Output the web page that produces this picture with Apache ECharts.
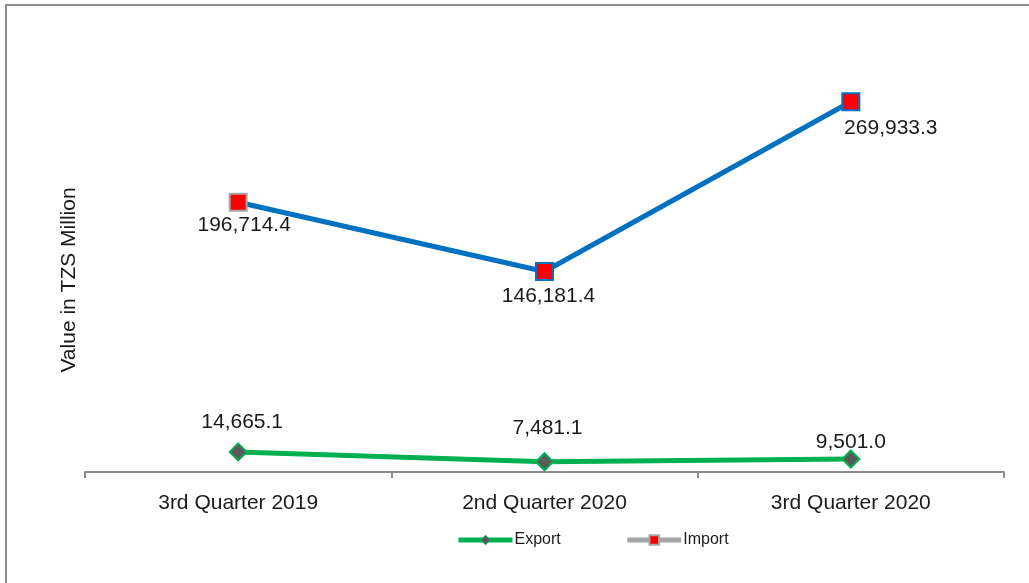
<!DOCTYPE html>
<html>
<head>
<meta charset="utf-8">
<script src="https://cdn.jsdelivr.net/npm/echarts@6/dist/echarts.min.js"></script>
<style>
html,body{margin:0;padding:0;background:#fff;}
#chart{width:1029px;height:583px;}
</style>
</head>
<body>
<div id="chart"></div>
<script>
const categories = ['3rd Quarter 2019', '2nd Quarter 2020', '3rd Quarter 2020'];
const exportValues = [14665.1, 7481.1, 9501.0];
const importValues = [196714.4, 146181.4, 269933.3];
const yAxisTitle = 'Value in TZS Million';

const fmt = v => v.toLocaleString('en-US', {minimumFractionDigits: 1, maximumFractionDigits: 1});
const FONT = 'Liberation Sans, Arial, sans-serif';

const importBorders = ['#A6A6A6', '#0070C0', '#0070C0'];
const importLabelOffsets = [[6, -1], [4, 1], [40, 2]];
const exportLabelOffsets = [[4, -2], [3, -6], [0, 11]];

const chart = echarts.init(document.getElementById('chart'));
chart.setOption({
  animation: false,
  backgroundColor: '#fff',
  graphic: [
    {type: 'line', shape: {x1: 5, y1: 5, x2: 1029, y2: 5}, style: {stroke: '#8C8C8C', lineWidth: 2}, silent: true},
    {type: 'line', shape: {x1: 6, y1: 4, x2: 6, y2: 583}, style: {stroke: '#8C8C8C', lineWidth: 2}, silent: true}
  ],
  grid: {left: 85, right: 25, top: 88, bottom: 111},
  legend: {
    top: 527,
    left: 451,
    itemWidth: 54,
    itemHeight: 12,
    itemGap: 64,
    textStyle: {fontFamily: FONT, fontSize: 16, color: '#1a1a1a', padding: [0, 0, 0, -3]},
    data: [
      {name: 'Export', itemStyle: {color: '#595959', borderColor: '#00B050', borderWidth: 1}, lineStyle: {color: '#00B050', width: 5}},
      {name: 'Import', itemStyle: {color: '#FF0000', borderColor: '#A6A6A6', borderWidth: 2}, lineStyle: {color: '#A6A6A6', width: 5}}
    ]
  },
  xAxis: {
    type: 'category',
    data: categories,
    boundaryGap: true,
    axisLine: {lineStyle: {color: '#8C8C8C', width: 2}},
    axisTick: {show: true, length: 6, lineStyle: {color: '#8C8C8C', width: 2}},
    axisLabel: {fontFamily: FONT, fontSize: 21, color: '#1a1a1a', margin: 21}
  },
  yAxis: {
    type: 'value',
    min: 0,
    max: 280000,
    name: yAxisTitle,
    nameLocation: 'middle',
    nameRotate: 90,
    nameGap: 5,
    nameTextStyle: {fontFamily: FONT, fontSize: 21, color: '#1a1a1a'},
    axisLine: {show: false},
    axisTick: {show: false},
    axisLabel: {show: false},
    splitLine: {show: false}
  },
  series: [
    {
      name: 'Export',
      type: 'line',
      data: exportValues.map((v, i) => ({
        value: v,
        label: {offset: exportLabelOffsets[i]}
      })),
      symbol: 'diamond',
      symbolSize: 17,
      lineStyle: {color: '#00B050', width: 5},
      itemStyle: {color: '#595959', borderColor: '#00B050', borderWidth: 2},
      label: {
        show: true,
        position: 'top',
        distance: 8,
        formatter: p => fmt(p.value),
        fontFamily: FONT, fontSize: 21, color: '#1a1a1a'
      },
      z: 3
    },
    {
      name: 'Import',
      type: 'line',
      data: importValues.map((v, i) => ({
        value: v,
        itemStyle: {borderColor: importBorders[i]},
        label: {offset: importLabelOffsets[i]}
      })),
      symbol: 'rect',
      symbolSize: 17,
      lineStyle: {color: '#0070C0', width: 5},
      itemStyle: {color: '#FF0000', borderColor: '#0070C0', borderWidth: 2},
      label: {
        show: true,
        position: 'bottom',
        distance: 4,
        formatter: p => fmt(p.value),
        fontFamily: FONT, fontSize: 21, color: '#1a1a1a'
      },
      z: 4
    }
  ]
});
</script>
</body>
</html>
